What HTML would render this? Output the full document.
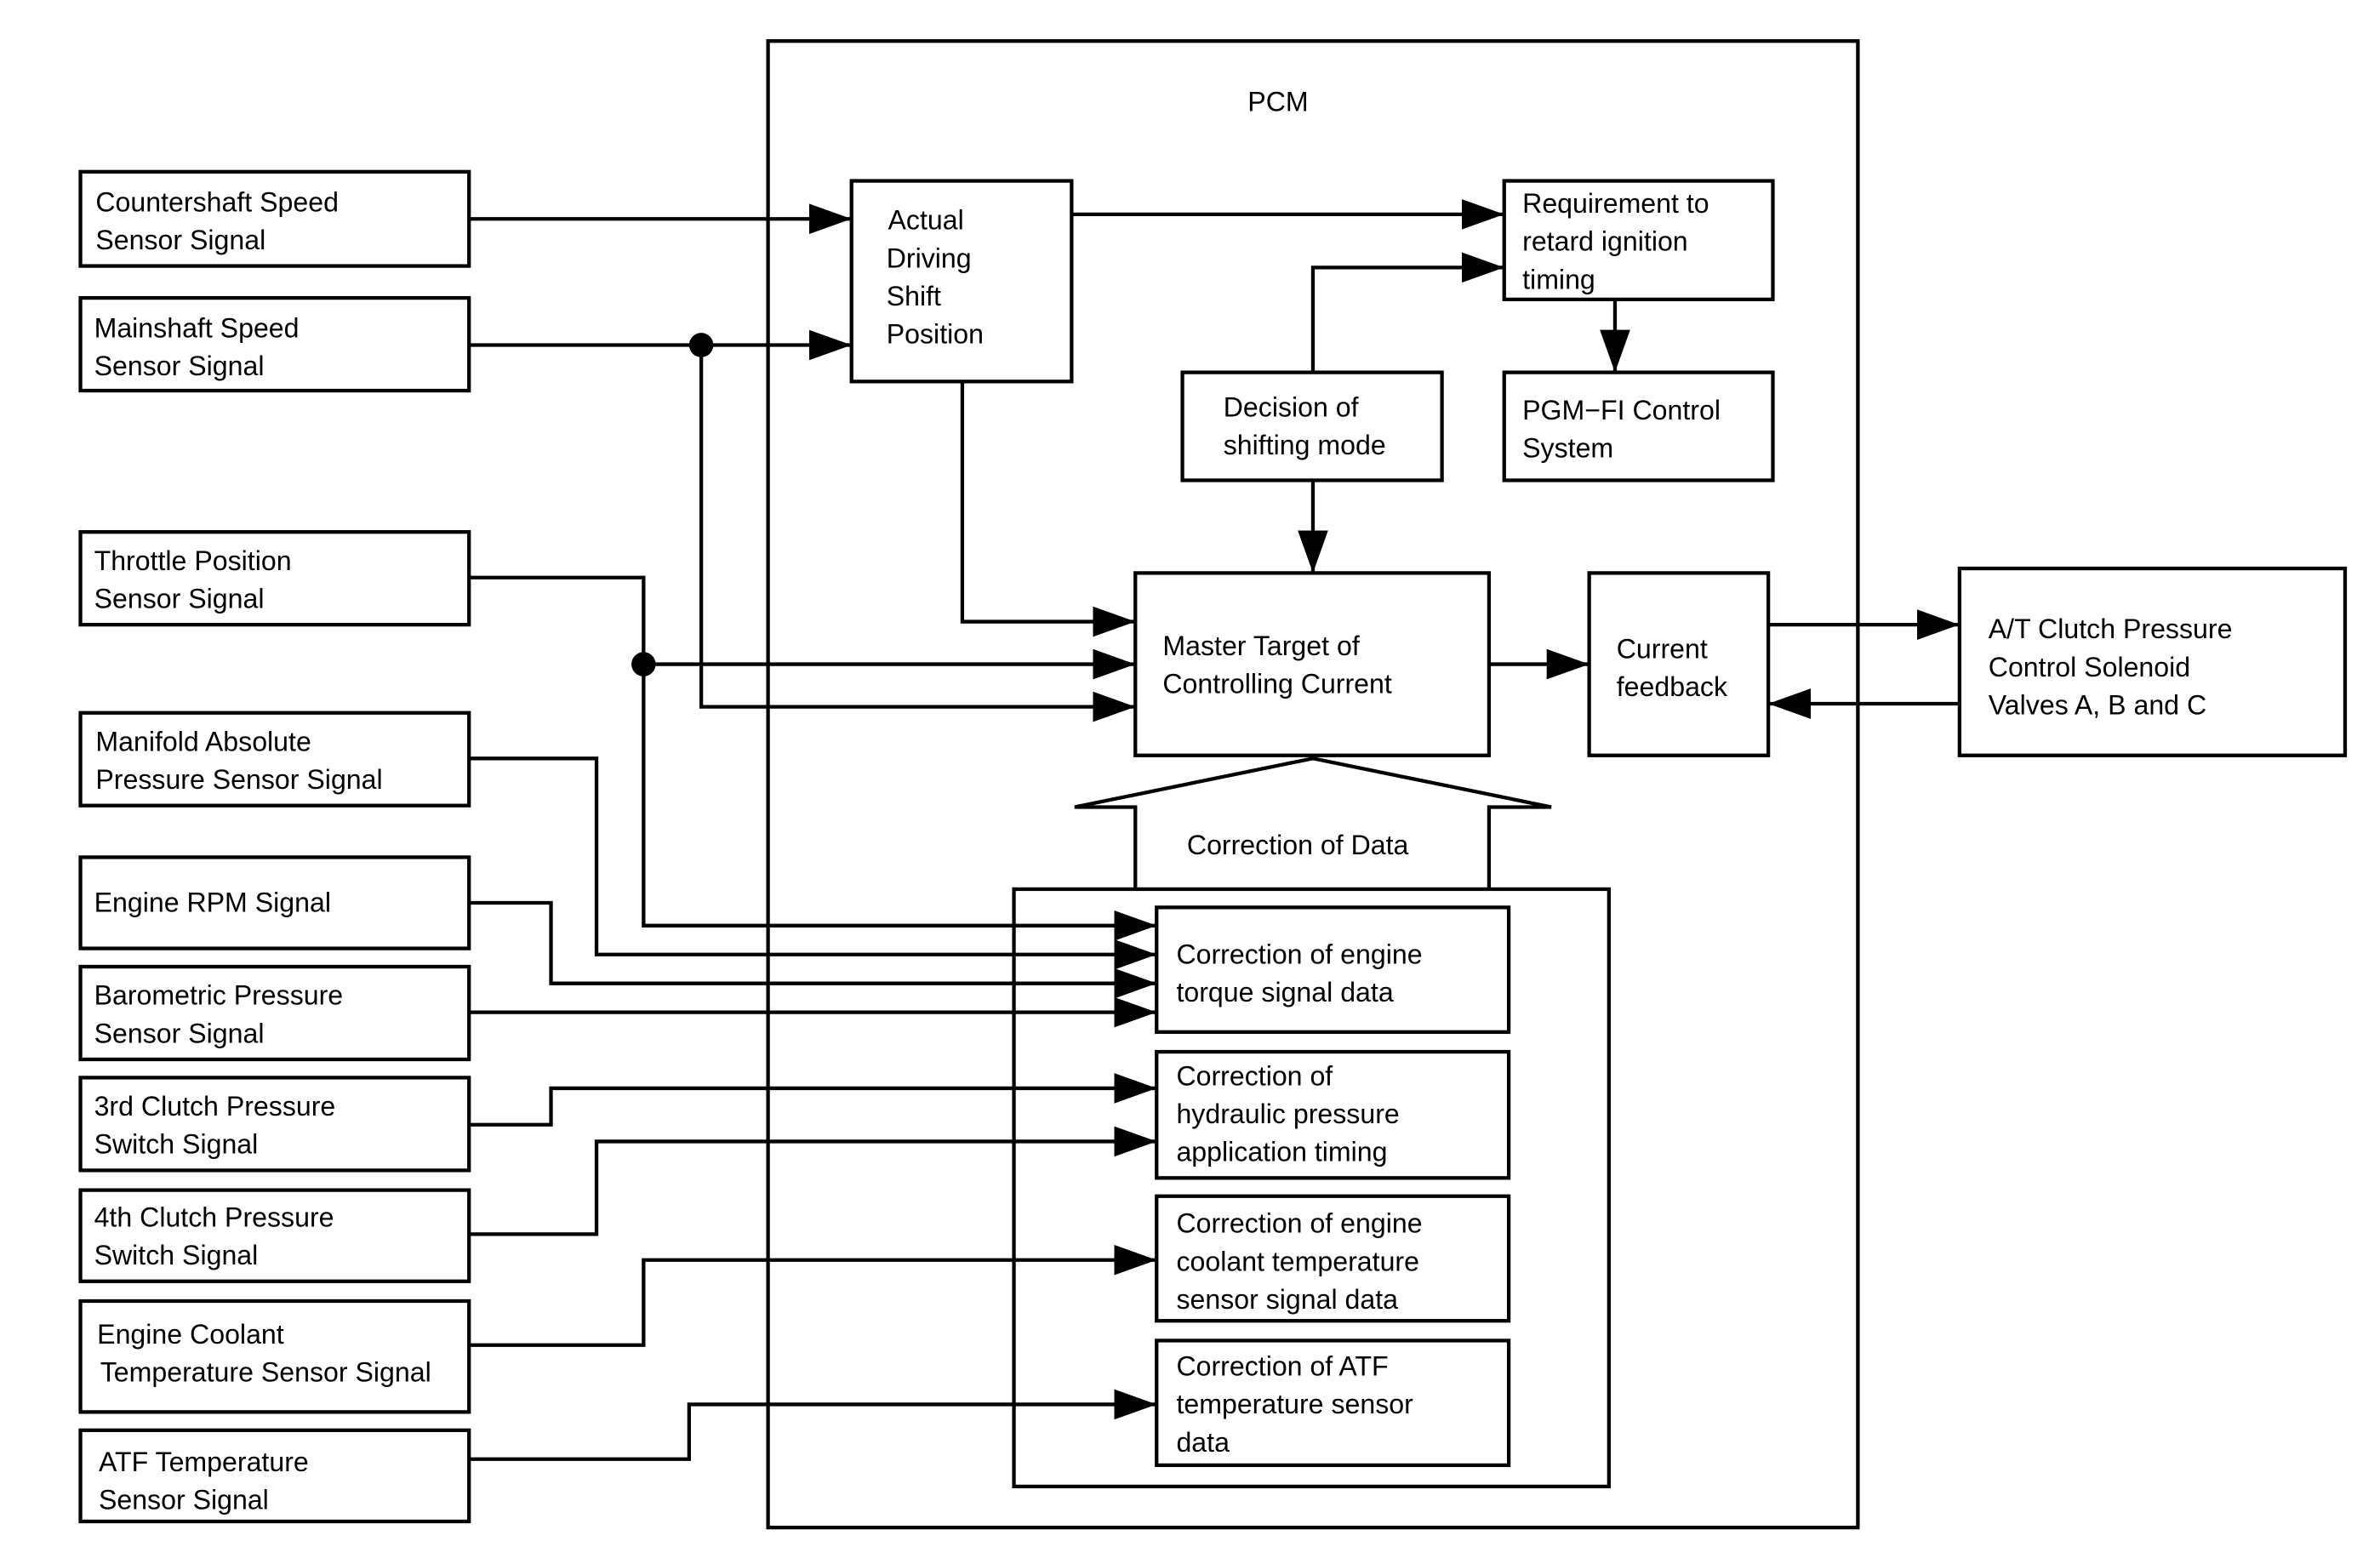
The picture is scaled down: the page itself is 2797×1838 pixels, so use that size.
<!DOCTYPE html>
<html><head><meta charset="utf-8"><style>
html,body{margin:0;padding:0;background:#fff;}
svg{display:block;}
text{font-family:"Liberation Sans",Arial,sans-serif;font-size:18px;fill:#000;}
</style></head><body>
<svg width="2797" height="1838" viewBox="0 0 1568 1029" preserveAspectRatio="none" xmlns="http://www.w3.org/2000/svg">
<defs>
<marker id="a" markerUnits="userSpaceOnUse" markerWidth="30" markerHeight="22" refX="28" refY="10" orient="auto">
<path d="M0,0 L28,10 L0,20 Z" fill="#000"/>
</marker>
</defs>
<g fill="none" stroke="#000" stroke-width="2.4">
<rect x="506" y="27" width="718" height="978"/>
<rect x="53" y="113" width="256" height="62"/>
<rect x="53" y="196" width="256" height="61"/>
<rect x="53" y="350" width="256" height="61"/>
<rect x="53" y="469" width="256" height="61"/>
<rect x="53" y="564" width="256" height="60"/>
<rect x="53" y="636" width="256" height="61"/>
<rect x="53" y="709" width="256" height="61"/>
<rect x="53" y="783" width="256" height="60"/>
<rect x="53" y="856" width="256" height="73"/>
<rect x="53" y="941" width="256" height="60"/>
<rect x="561" y="119" width="145" height="132"/>
<rect x="991" y="119" width="177" height="78"/>
<rect x="991" y="245" width="177" height="71"/>
<rect x="779" y="245" width="171" height="71"/>
<rect x="748" y="377" width="233" height="120"/>
<rect x="1047" y="377" width="118" height="120"/>
<rect x="1291" y="374" width="254" height="123"/>
<path d="M748,585 L748,531 L708,531 L865,499 L1022,531 L981,531 L981,585"/>
<rect x="668" y="585" width="392" height="393"/>
<rect x="762" y="597" width="232" height="82"/>
<rect x="762" y="692" width="232" height="83"/>
<rect x="762" y="787" width="232" height="82"/>
<rect x="762" y="882" width="232" height="82"/>
</g>
<g fill="none" stroke="#000" stroke-width="2.4" marker-end="url(#a)">
<path d="M309,144 H561"/>
<path d="M309,227 H561"/>
<path d="M462,227 V465 H748"/>
<path d="M706,141 H991"/>
<path d="M865,245 V176 H991"/>
<path d="M1064,197 V245"/>
<path d="M865,316 V377"/>
<path d="M634,251 V409 H748"/>
<path d="M309,380 H424 V609 H762"/>
<path d="M424,437 H748"/>
<path d="M981,437 H1047"/>
<path d="M1165,411 H1291"/>
<path d="M1291,463 H1165"/>
<path d="M309,499 H393 V628 H762"/>
<path d="M309,594 H363 V647 H762"/>
<path d="M309,666 H762"/>
<path d="M309,740 H363 V716 H762"/>
<path d="M309,812 H393 V751 H762"/>
<path d="M309,885 H424 V829 H762"/>
<path d="M309,960 H454 V924 H762"/>
</g>
<circle cx="462" cy="227" r="8" fill="#000"/>
<circle cx="424" cy="437" r="8" fill="#000"/>
<text x="842" y="73" text-anchor="middle">PCM</text>
<text x="63" y="139">Countershaft Speed</text><text x="63" y="164">Sensor Signal</text>
<text x="62" y="222">Mainshaft Speed</text><text x="62" y="247">Sensor Signal</text>
<text x="62" y="375">Throttle Position</text><text x="62" y="400">Sensor Signal</text>
<text x="63" y="494">Manifold Absolute</text><text x="63" y="519">Pressure Sensor Signal</text>
<text x="62" y="600">Engine RPM Signal</text>
<text x="62" y="661">Barometric Pressure</text><text x="62" y="686">Sensor Signal</text>
<text x="62" y="734">3rd Clutch Pressure</text><text x="62" y="759">Switch Signal</text>
<text x="62" y="807">4th Clutch Pressure</text><text x="62" y="832">Switch Signal</text>
<text x="64" y="884">Engine Coolant</text><text x="66" y="909">Temperature Sensor Signal</text>
<text x="65" y="968">ATF Temperature</text><text x="65" y="993">Sensor Signal</text>
<text x="585" y="151">Actual</text><text x="584" y="176">Driving</text><text x="584" y="201">Shift</text><text x="584" y="226">Position</text>
<text x="1003" y="140">Requirement to</text><text x="1003" y="165">retard ignition</text><text x="1003" y="190">timing</text>
<text x="1003" y="276">PGM−FI Control</text><text x="1003" y="301">System</text>
<text x="806" y="274">Decision of</text><text x="806" y="299">shifting mode</text>
<text x="766" y="431">Master Target of</text><text x="766" y="456">Controlling Current</text>
<text x="1065" y="433">Current</text><text x="1065" y="458">feedback</text>
<text x="1310" y="420">A/T Clutch Pressure</text><text x="1310" y="445">Control Solenoid</text><text x="1310" y="470">Valves A, B and C</text>
<text x="855" y="562" text-anchor="middle">Correction of Data</text>
<text x="775" y="634">Correction of engine</text><text x="775" y="659">torque signal data</text>
<text x="775" y="714">Correction of</text><text x="775" y="739">hydraulic pressure</text><text x="775" y="764">application timing</text>
<text x="775" y="811">Correction of engine</text><text x="775" y="836">coolant temperature</text><text x="775" y="861">sensor signal data</text>
<text x="775" y="905">Correction of ATF</text><text x="775" y="930">temperature sensor</text><text x="775" y="955">data</text>
</svg>
</body></html>
